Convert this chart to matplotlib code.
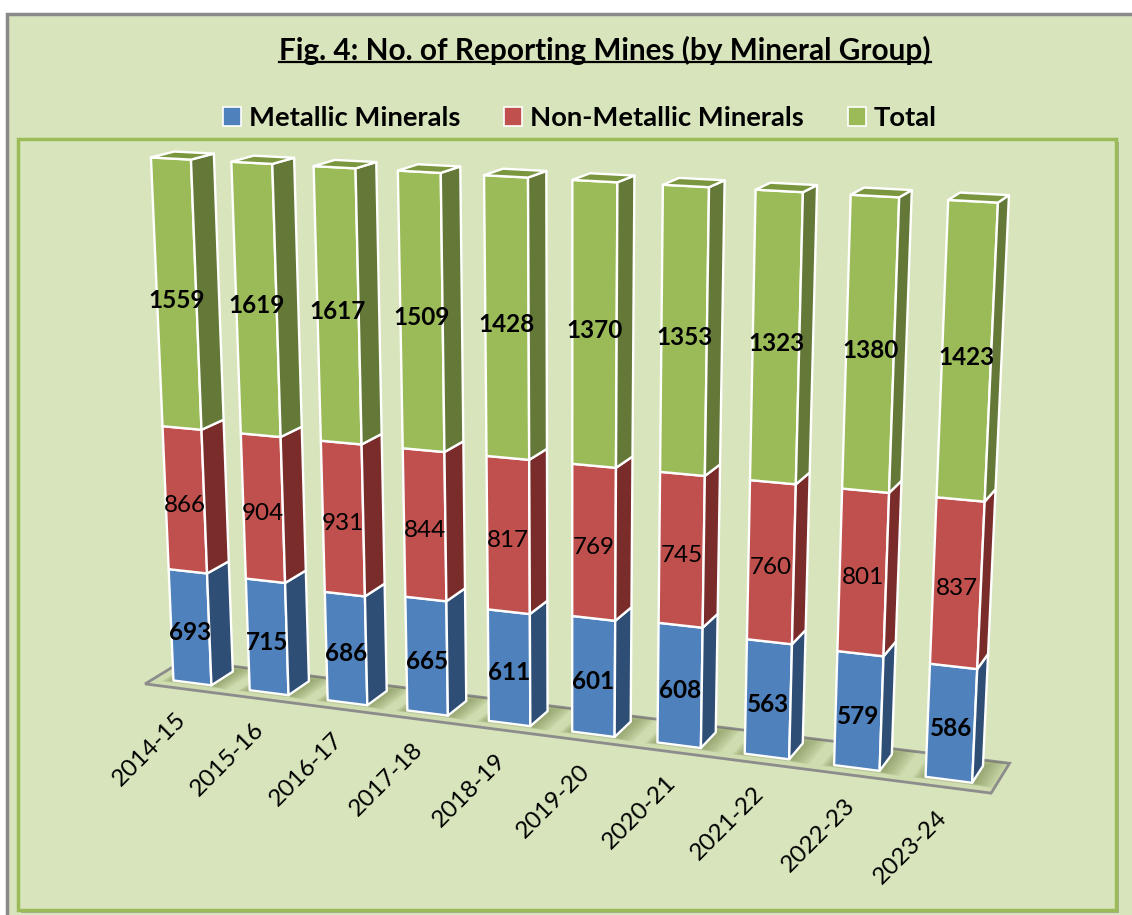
import numpy as np
import matplotlib
matplotlib.use('Agg')
import matplotlib.pyplot as plt
from matplotlib.patches import Polygon, Rectangle, Patch
from matplotlib.lines import Line2D

plt.rcParams['font.family'] = ['Lato', 'DejaVu Sans']

# ---------------- data ----------------
years = ['2014-15', '2015-16', '2016-17', '2017-18', '2018-19',
         '2019-20', '2020-21', '2021-22', '2022-23', '2023-24']
metallic = [693, 715, 686, 665, 611, 601, 608, 563, 579, 586]
non_metallic = [866, 904, 931, 844, 817, 769, 745, 760, 801, 837]
total = [1559, 1619, 1617, 1509, 1428, 1370, 1353, 1323, 1380, 1423]
series_names = ['Metallic Minerals', 'Non-Metallic Minerals', 'Total']

# ---------------- 3-D view (camera) settings ----------------
W, H = 1132, 915
CAM_POS = (14.542, -26.140, 10.087)   # camera position in scene units
YAW, PITCH = 0.35982, 0.27862        # radians
FOCAL = 2665.9                       # pixels
CENTER = (568.68, 549.60)            # principal point, pixels
BAR_H, BAR_W, BAR_D = 6.1297, 0.5007, 0.5363   # 100 % column height, width, depth
FLOOR_Y = (-0.2274, 0.7171)


def project(X, Y, Z):
    """Perspective projection of scene coordinates to figure pixels."""
    X = np.asarray(X, float); Y = np.asarray(Y, float); Z = np.asarray(Z, float)
    qx, qy, qz = X - CAM_POS[0], Y - CAM_POS[1], Z - CAM_POS[2]
    sa, ca, se, ce = np.sin(YAW), np.cos(YAW), np.sin(PITCH), np.cos(PITCH)
    dep = -sa*ce*qx + ca*ce*qy - se*qz
    sx = ca*qx + sa*qy
    sy = -sa*se*qx + ca*se*qy + ce*qz
    return CENTER[0] + FOCAL*sx/dep, CENTER[1] - FOCAL*sy/dep


def P(X, Y, frac):
    # value axis: fraction of the 100 % stacked column
    return project(X, Y, np.asarray(frac, float)*BAR_H)


# ---------------- figure ----------------
fig = plt.figure(figsize=(W/100, H/100), dpi=100)
fig.patch.set_facecolor('white')
ax = fig.add_axes([0, 0, 1, 1])
ax.set_xlim(0, W); ax.set_ylim(H, 0); ax.axis('off')

bg = '#D8E4BC'
ax.add_patch(Rectangle((7, 14), W+20, H+20, facecolor=bg, edgecolor='#8A8A8A', lw=2.5, zorder=0))
ax.add_patch(Rectangle((21, 142), 1098, 771, facecolor='#A4AE93', edgecolor='none', zorder=0.5))
ax.add_patch(Rectangle((18, 139), 1098, 771, facecolor=bg, edgecolor='#9BBB59', lw=2.5, zorder=0.6))

n = len(years)
x_pos = np.arange(n)
grand = np.array(metallic) + np.array(non_metallic) + np.array(total)

# floor
fx0, fx1 = x_pos[0] - 0.5, x_pos[-1] + 0.5
fx, fy = P([fx0, fx1, fx1, fx0], [FLOOR_Y[0], FLOOR_Y[0], FLOOR_Y[1], FLOOR_Y[1]], [0, 0, 0, 0])
floor = Polygon(np.c_[fx, fy], closed=True, facecolor='#CFDCAF', edgecolor='#8C8C8C', lw=2, zorder=1)
ax.add_patch(floor)
for i in x_pos:
    for ex in np.linspace(0.24, 0.03, 8):
        sx, sy = P([i-BAR_W/2-ex*0.5, i+BAR_W/2+ex, i+BAR_W/2+ex, i-BAR_W/2-ex*0.5],
                   [-ex*0.3, -ex*0.3, BAR_D+ex*1.2, BAR_D+ex*1.2], [0, 0, 0, 0])
        sh = Polygon(np.c_[sx, sy], closed=True, facecolor='#5A6D2C', edgecolor='none',
                     alpha=0.07, zorder=1.1)
        sh.set_clip_path(floor)
        ax.add_patch(sh)

front_c = ['#4F81BD', '#C0504D', '#9BBB59']
side_c = ['#2F4E76', '#7A2C2A', '#647937']
top_c = '#7A963F'
series = [metallic, non_metallic, total]
weights = ['bold', 'normal', 'bold']
ec = 'white'
for i in x_pos:
    base = 0.0
    for s in range(3):
        v = series[s][i]
        z0, z1 = base, base + v / grand[i]
        xl, xr = i - BAR_W/2, i + BAR_W/2
        px, py = P([xl, xr, xr, xl], [0, 0, 0, 0], [z0, z0, z1, z1])
        ax.add_patch(Polygon(np.c_[px, py], closed=True, facecolor=front_c[s], edgecolor=ec,
                             lw=1.7, zorder=2, joinstyle='round'))
        px, py = P([xr, xr, xr, xr], [0, BAR_D, BAR_D, 0], [z0, z0, z1, z1])
        ax.add_patch(Polygon(np.c_[px, py], closed=True, facecolor=side_c[s], edgecolor=ec,
                             lw=1.7, zorder=2, joinstyle='round'))
        if s == 2:
            px, py = P([xl, xr, xr, xl], [0, 0, BAR_D, BAR_D], [z1, z1, z1, z1])
            ax.add_patch(Polygon(np.c_[px, py], closed=True, facecolor=top_c, edgecolor=ec,
                                 lw=1.7, zorder=2, joinstyle='round'))
        tx, ty = P(i, 0, (z0 + z1)/2)
        ax.annotate(str(v), (float(tx), float(ty)), xytext=(0, -5), textcoords='offset pixels',
                    ha='center', va='center', fontsize=17.5, fontweight=weights[s],
                    color='black', zorder=3)
        base = z1
    lx, ly = P(i, FLOOR_Y[0], 0)
    ax.annotate(years[i], (float(lx), float(ly)), xytext=(0, -27), textcoords='offset pixels',
                rotation=45, rotation_mode='anchor', ha='right', va='center',
                fontsize=17.5, zorder=3)

title = fig.text(605/W, 1-50/H, 'Fig. 4: No. of Reporting Mines (by Mineral Group)',
                 ha='center', va='center', fontsize=21.4, fontweight='bold')
handles = [Patch(facecolor=c, edgecolor='white', lw=1.2) for c in front_c]
fig.legend(handles, series_names, ncol=3,
           loc='center', bbox_to_anchor=(580/W, 1-118/H), frameon=False,
           prop={'size': 19.7, 'weight': 'bold'}, handlelength=0.65, handleheight=0.65,
           handletextpad=0.3, columnspacing=1.6)
fig.canvas.draw()
bb = title.get_window_extent()
fig.add_artist(Line2D([bb.x0/W, bb.x1/W], [1-62/H, 1-62/H], color='black', lw=1.6))
fig.savefig('out.png', dpi=100, facecolor='white')
